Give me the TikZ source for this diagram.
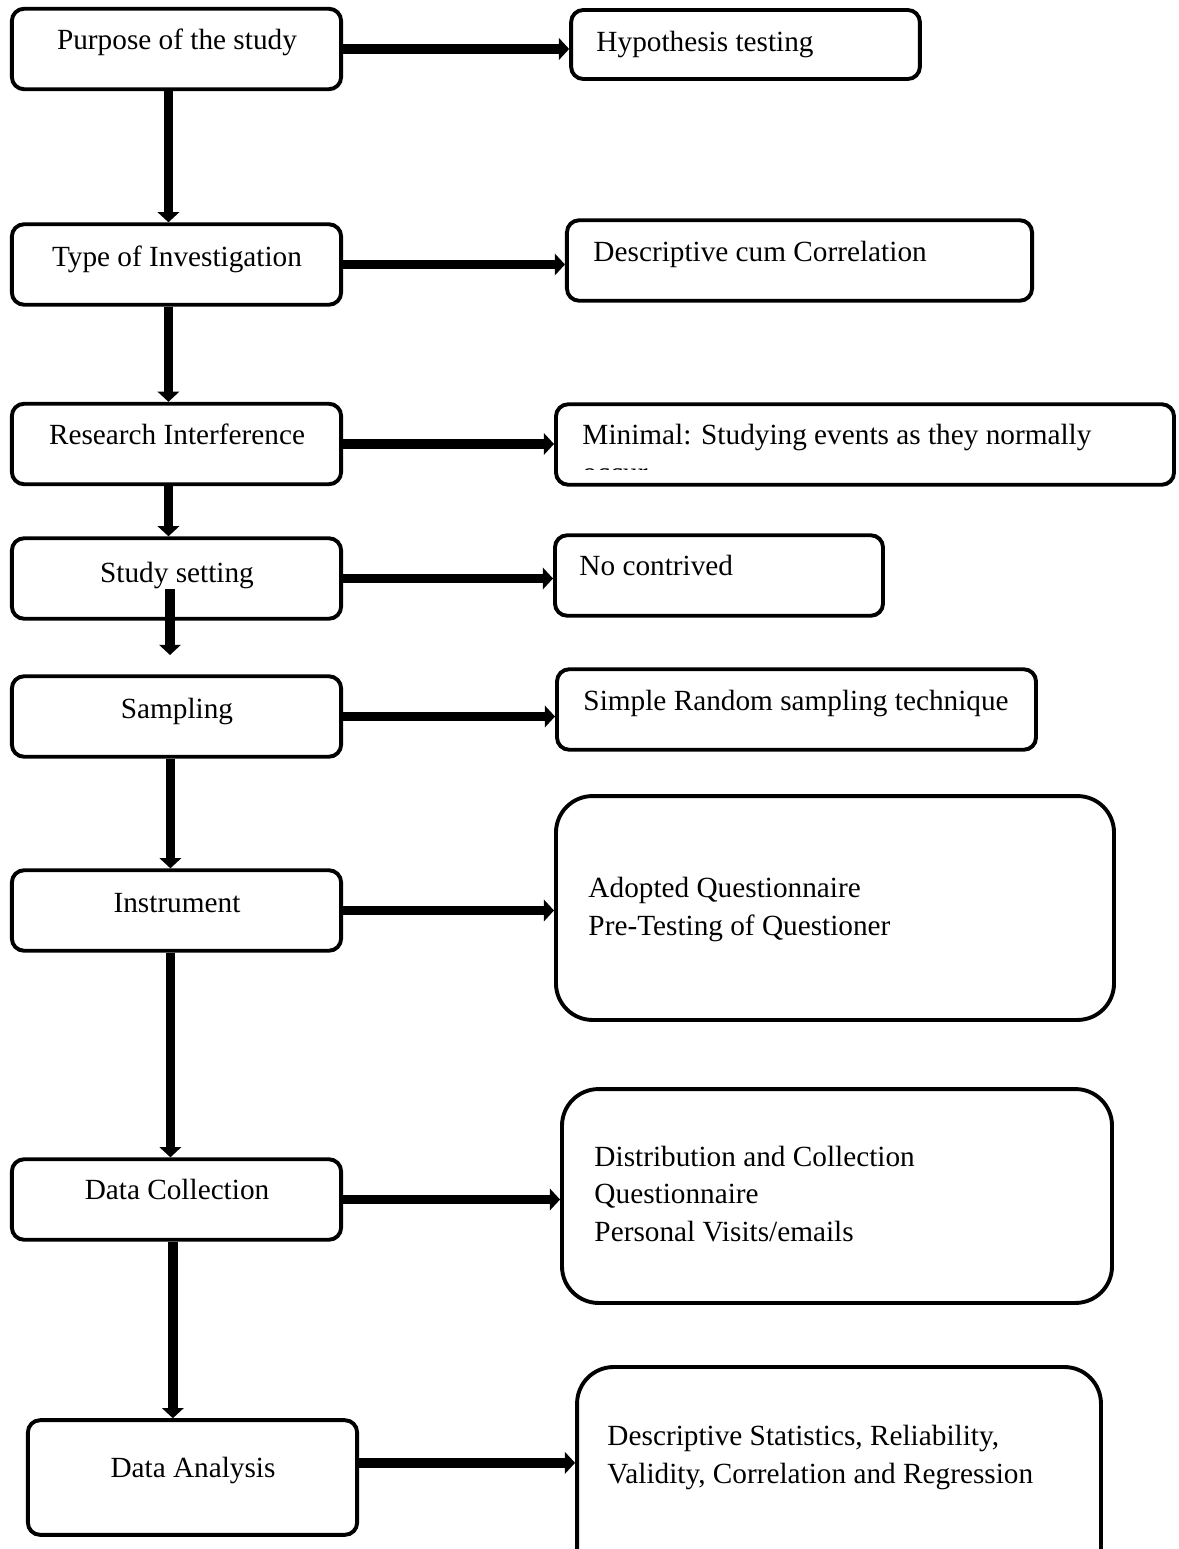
\documentclass[tikz,border=0pt]{standalone}
\usepackage{fontspec}
\setmainfont{Liberation Serif}
\usetikzlibrary{arrows.meta}

\begin{document}
\begin{tikzpicture}[x=0.41pt, y=-0.41pt,
  every node/.style={font=\fontsize{12}{15.2}\selectfont},
  stage/.style={draw, line width=1.6pt, rounded corners=5pt, minimum width=135pt, minimum height=33pt},
  outcome/.style={draw, line width=1.6pt, rounded corners=5pt, minimum height=33pt},
  bigoutcome/.style={draw, line width=1.6pt, rounded corners=15pt},
  txt/.style={inner sep=0pt},
  flow/.style={line width=4pt, -{Triangle[length=4.2pt, width=8.8pt]}}]
  \useasboundingbox (0, 0) rectangle (1178, 1549);
  \clip (0, 0) rectangle (1178, 1549);
  \node[stage] (purpose) at (176.5, 49) {};
  \node[stage] (type) at (176.5, 264.5) {};
  \node[stage] (research) at (176.5, 444) {};
  \node[stage] (setting) at (176.5, 578.5) {};
  \node[stage] (sampling) at (176.5, 716.5) {};
  \node[stage] (instrument) at (176.5, 910.5) {};
  \node[stage] (collection) at (176.5, 1199.5) {};
  \node[stage, minimum height=47pt] (analysis) at (192.5, 1477.5) {};
  \node[txt, anchor=base] (purpose-t) at (177, 50) {Purpose of the study};
  \node[txt, anchor=base] (type-t) at (177, 267) {Type of Investigation};
  \node[txt, anchor=base] (research-t) at (177, 445) {Research Interference};
  \node[txt, anchor=base] (setting-t) at (177, 582) {Study setting};
  \node[txt, anchor=base] (sampling-t) at (177, 718) {Sampling};
  \node[txt, anchor=base] (instrument-t) at (177, 912) {Instrument};
  \node[txt, anchor=base] (collection-t) at (177, 1199) {Data Collection};
  \node[txt, anchor=base] (analysis-t) at (193, 1477) {Data Analysis};
  \node[outcome, minimum width=143pt, minimum height=28.3pt] (hypothesis) at (745.5, 44.5) {};
  \node[outcome, minimum width=190.7pt] (descriptive) at (799.5, 260.5) {};
  \node[outcome, minimum width=253.4pt] (minimal) at (865, 444.5) {};
  \node[outcome, minimum width=134.5pt] (contrived) at (719, 575.5) {};
  \node[outcome, minimum width=196.4pt] (random) at (796.5, 709.5) {};
  \node[bigoutcome, minimum width=228.8pt, minimum height=91.8pt] (adopted) at (835, 908) {};
  \node[bigoutcome, minimum width=225.5pt, minimum height=87.7pt] (distribution) at (837, 1196) {};
  \node[bigoutcome, minimum width=214.8pt, minimum height=94.7pt] (statistics) at (839, 1482.5) {};
  \node[txt, anchor=base west] (hypothesis-t) at (596, 52) {Hypothesis testing};
  \node[txt, anchor=base west] (descriptive-t) at (593, 262) {Descriptive cum Correlation};
  \node[txt, anchor=base west] (minimal-t) at (582, 445) {Minimal: Studying events as they normally};
  \begin{scope}
    \clip (556, 404) rectangle (1174, 469);
    \node[txt, anchor=base west] (minimal-cut) at (582, 482) {occur};
  \end{scope}
  \node[txt, anchor=base west] (contrived-t) at (579, 575) {No contrived};
  \node[txt, anchor=base west] (random-t) at (583, 710) {Simple Random sampling technique};
  \node[txt, anchor=base west, align=left] (adopted-t) at (588, 935) {Adopted Questionnaire\\Pre-Testing of Questioner};
  \node[txt, anchor=base west, align=left] (distribution-t) at (594, 1241) {Distribution and Collection\\Questionnaire\\Personal Visits/emails};
  \node[txt, anchor=base west, align=left] (statistics-t) at (607, 1483) {Descriptive Statistics, Reliability,\\Validity, Correlation and Regression};
  \draw[flow] (purpose.east) -- (purpose.east -| hypothesis.west);
  \draw[flow] (type.east) -- (type.east -| descriptive.west);
  \draw[flow] (research.east) -- (research.east -| minimal.west);
  \draw[flow] (setting.east) -- (setting.east -| contrived.west);
  \draw[flow] (sampling.east) -- (sampling.east -| random.west);
  \draw[flow] (instrument.east) -- (instrument.east -| adopted.west);
  \draw[flow] (collection.east) -- (collection.east -| distribution.west);
  \draw[flow] ([yshift=6pt]analysis.east) -- ([yshift=6pt]analysis.east -| statistics.west);
  \draw[flow] ([xshift=-3.3pt]purpose.south) -- ([xshift=-3.3pt]type.north);
  \draw[flow] ([xshift=-3.3pt]type.south) -- ([xshift=-3.3pt]research.north);
  \draw[flow] ([xshift=-3.3pt]research.south) -- ([xshift=-3.3pt]setting.north);
  \coordinate (setting-drop) at (170, 589);
  \coordinate (setting-end) at (170, 655);
  \draw[flow] (setting-drop) -- (setting-end);
  \draw[flow] ([xshift=-2.5pt]sampling.south) -- ([xshift=-2.5pt]instrument.north);
  \draw[flow] ([xshift=-2.5pt]instrument.south) -- ([xshift=-2.5pt]collection.north);
  \draw[flow] ([xshift=-1.5pt]collection.south) -- ([xshift=-1.5pt]collection.south |- analysis.north);
\end{tikzpicture}
\end{document}
